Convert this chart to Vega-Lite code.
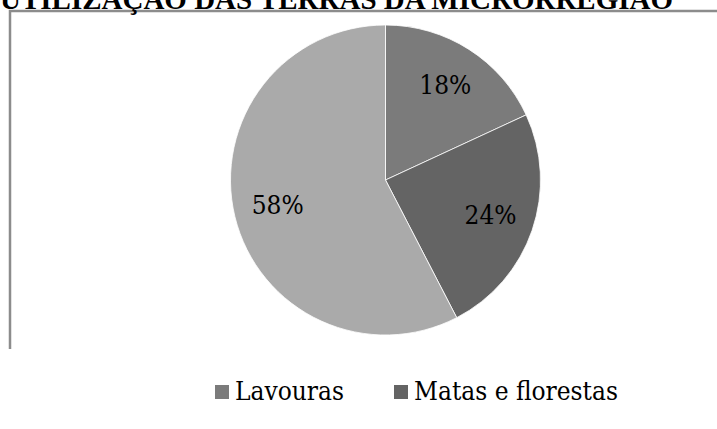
{
  "$schema": "https://vega.github.io/schema/vega-lite/v6.json",
  "autosize": {"type": "none"},
  "padding": {"left": 10, "top": 11, "right": 0, "bottom": 80},
  "width": 751,
  "height": 338,
  "background": "#ffffff",
  "title": {
    "text": "UTILIZAÇÃO DAS TERRAS DA MICRORREGIÃO",
    "anchor": "start",
    "frame": "group",
    "font": "Times New Roman",
    "fontSize": 29,
    "fontWeight": "bold",
    "color": "#000000",
    "baseline": "alphabetic",
    "offset": 3,
    "dx": -10,
    "dy": 31
  },
  "layer": [
    {
      "data": {"values": [{"quadro": "borda"}]},
      "mark": {
        "type": "rect",
        "fill": null,
        "fillOpacity": 0,
        "stroke": "#8c8c8c",
        "strokeWidth": 2.5,
        "strokeDash": [1089, 751, 338]
      },
      "encoding": {}
    },
    {
      "data": {
        "values": [
          {"uso": "Lavouras", "pct": 18.1, "rotulo": "18%", "ordem": 1},
          {"uso": "Matas e florestas", "pct": 24.3, "rotulo": "24%", "ordem": 2},
          {"uso": "Pastagens", "pct": 57.6, "rotulo": "58%", "ordem": 3}
        ]
      },
      "encoding": {
        "theta": {"field": "pct", "type": "quantitative", "stack": true},
        "order": {"field": "ordem", "type": "quantitative"}
      },
      "layer": [
        {
          "mark": {"type": "arc", "outerRadius": 155, "stroke": "#ffffff", "strokeWidth": 0.8},
          "encoding": {
            "color": {
              "field": "uso",
              "type": "nominal",
              "scale": {
                "domain": ["Lavouras", "Matas e florestas", "Pastagens"],
                "range": ["#7b7b7b", "#646464", "#aaaaaa"]
              },
              "legend": {
                "values": ["Lavouras", "Matas e florestas"],
                "orient": "none",
                "legendX": 199,
                "legendY": 368,
                "direction": "horizontal",
                "columns": 2,
                "columnPadding": 44,
                "padding": 0,
                "title": null,
                "symbolType": "square",
                "symbolSize": 196,
                "symbolStrokeWidth": 0,
                "symbolOpacity": 1,
                "labelFont": "DejaVu Serif Condensed, DejaVu Serif",
                "labelFontSize": 26,
                "labelColor": "#000000",
                "labelOffset": 0,
                "labelLimit": 400
              }
            }
          }
        },
        {
          "mark": {
            "type": "text",
            "radius": 111,
            "font": "DejaVu Serif Condensed, DejaVu Serif",
            "fontSize": 26,
            "color": "#000000",
            "baseline": "middle",
            "align": "center"
          },
          "encoding": {
            "text": {"field": "rotulo", "type": "nominal"}
          }
        }
      ]
    }
  ],
  "config": {
    "view": {"stroke": null}
  }
}
